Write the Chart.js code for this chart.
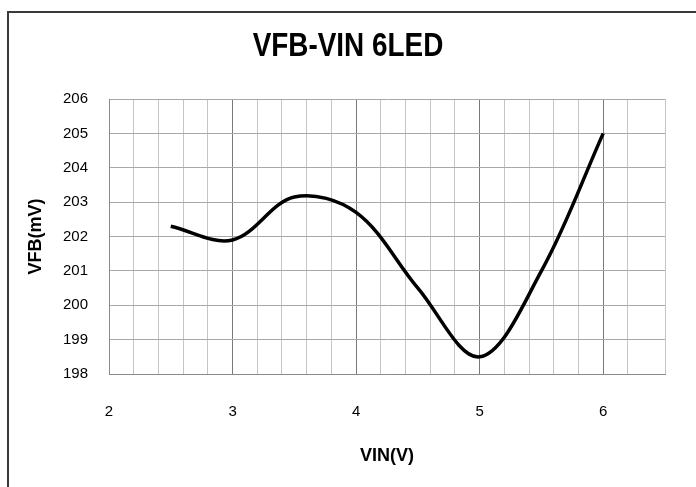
<!DOCTYPE html>
<html>
<head>
<meta charset="utf-8">
<script src="https://cdn.jsdelivr.net/npm/chart.js@4"></script>
<style>
  html, body { margin: 0; padding: 0; background: #fff; }
  #wrap { width: 696px; height: 487px; }
</style>
</head>
<body>
<div id="wrap"><canvas id="vfbChart" width="696" height="487"></canvas></div>
<script>
/* ==============================
   DATA
============================== */
const chartTitle = "VFB-VIN 6LED";
const vin = [2.5, 3, 3.5, 4, 4.5, 5, 5.5, 6];
const vfb = [202.3, 201.9, 203.15, 202.7, 200.5, 198.5, 201.0, 205.0];
const xRange = [2, 6.5];
const yRange = [198, 206];

const FONT = "'Liberation Sans', Arial, sans-serif";

/* ==============================
   frame + title (title is condensed like the original)
============================== */
const framePlugin = {
  id: "frame",
  beforeDraw(chart) {
    const ctx = chart.ctx;
    ctx.save();
    ctx.fillStyle = "#fff";
    ctx.fillRect(0, 0, chart.width, chart.height);
    ctx.strokeStyle = "#3a3a3a";
    ctx.lineWidth = 2;
    ctx.strokeRect(8, 12, 760, 520);
    ctx.restore();
  },
  afterDraw(chart) {
    const ctx = chart.ctx;
    ctx.save();
    ctx.fillStyle = "#000";
    ctx.font = "bold 34px " + FONT;
    ctx.textAlign = "center";
    ctx.textBaseline = "middle";
    ctx.translate(348, 47);
    ctx.scale(0.82, 1);
    ctx.fillText(chartTitle, 0, 0);
    ctx.restore();
  },
};

const points = vin.map((x, i) => ({ x: x, y: vfb[i] }));

new Chart(document.getElementById("vfbChart"), {
  type: "line",
  data: {
    datasets: [
      {
        data: points,
        borderColor: "#000",
        borderWidth: 3.5,
        tension: 0.35,
        pointRadius: 0,
        fill: false,
      },
    ],
  },
  options: {
    responsive: false,
    animation: false,
    layout: { padding: { left: 0, right: 31, top: 99, bottom: 0 } },
    plugins: {
      legend: { display: false },
      tooltip: { enabled: false },
    },
    scales: {
      x: {
        type: "linear",
        min: xRange[0],
        max: xRange[1],
        afterFit: (s) => { s.height = 113; },
        border: { color: "#8a8a8a", width: 1 },
        grid: {
          drawTicks: false,
          color: (c) => {
            const v = Math.round(c.tick.value * 10) / 10;
            return v % 1 === 0 ? "#7a7a7a" : "#c4c4c4";
          },
          lineWidth: 1,
        },
        ticks: {
          stepSize: 0.2,
          padding: 29,
          maxRotation: 0,
          autoSkip: false,
          color: "#000",
          font: { family: FONT, size: 15 },
          callback: (value) => {
            const v = Math.round(value * 10) / 10;
            return v % 1 === 0 ? String(v) : "";
          },
        },
        title: {
          display: true,
          text: "VIN(V)",
          color: "#000",
          font: { family: FONT, size: 18, weight: "bold" },
          padding: { top: 0, bottom: 20 },
        },
      },
      y: {
        min: yRange[0],
        max: yRange[1],
        afterFit: (s) => { s.width = 109; },
        border: { color: "#8a8a8a", width: 1 },
        grid: { drawTicks: false, color: "#a8a8a8", lineWidth: 1 },
        ticks: {
          stepSize: 1,
          padding: 21,
          color: "#000",
          font: { family: FONT, size: 15 },
        },
        title: {
          display: true,
          text: "VFB(mV)",
          color: "#000",
          font: { family: FONT, size: 18, weight: "bold" },
          padding: { top: 25, bottom: 0 },
        },
      },
    },
  },
  plugins: [framePlugin],
});
</script>
</body>
</html>
